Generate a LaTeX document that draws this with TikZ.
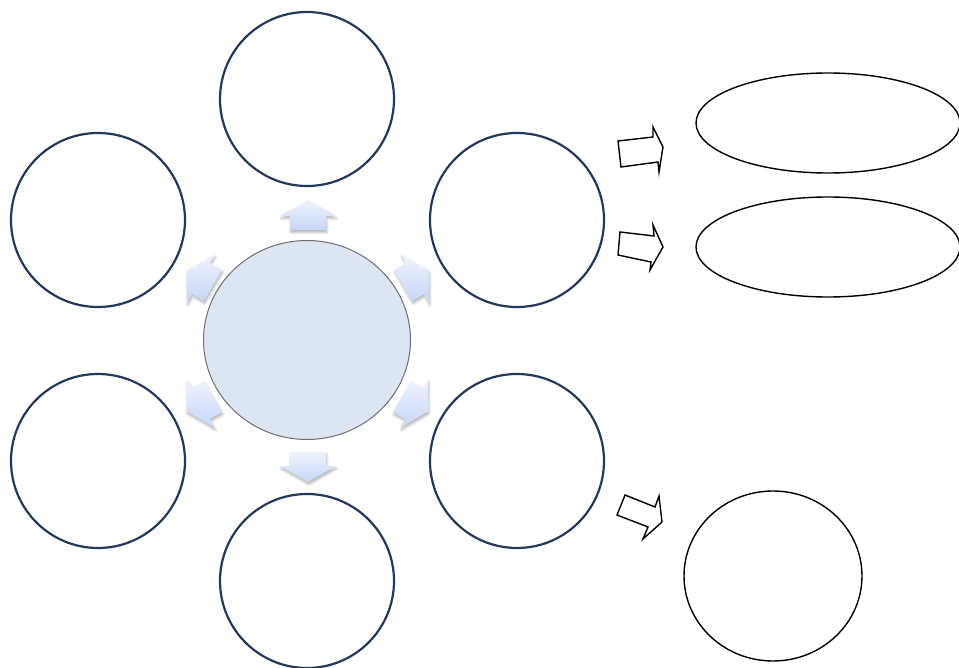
\documentclass[tikz,border=0pt]{standalone}
\usetikzlibrary{shapes.geometric,shadows.blur}

\definecolor{ringblue}{HTML}{22395A}
\definecolor{hubfill}{HTML}{DCE6F2}
\definecolor{hubline}{HTML}{6E6E6E}
\definecolor{arrtop}{HTML}{EFF3FD}
\definecolor{arrbot}{HTML}{C6D6F7}

\tikzset{
  ring/.style={circle, draw=ringblue, line width=2.2pt, fill=white,
               minimum size=174pt, inner sep=0pt},
  hub/.style={ellipse, draw=hubline, line width=1pt, fill=hubfill,
              minimum width=207pt, minimum height=199pt, inner sep=0pt},
  result/.style={ellipse, draw=black, line width=1.4pt, inner sep=0pt},
  outarrow/.style={draw=black, line width=1.4pt, line join=miter, fill=white},
  radarrow/.style={top color=arrtop, bottom color=arrbot,
    blur shadow={shadow xshift=0.8pt, shadow yshift=-2.5pt,
                 shadow blur radius=2.5pt, shadow opacity=30}},
}

% small block arrow around the hub: name, centre x, centre y, rotation
\newcommand\radialarrow[4]{%
  \begin{scope}[shift={(#2,#3)}, rotate=#4]
    \coordinate (#1-1) at (-18,15);
    \coordinate (#1-2) at (-18,1);
    \coordinate (#1-3) at (-28,1);
    \coordinate (#1-4) at (0,-15);
    \coordinate (#1-5) at (28,1);
    \coordinate (#1-6) at (18,1);
    \coordinate (#1-7) at (18,15);
  \end{scope}
  \path[radarrow] (#1-1) -- (#1-2) -- (#1-3) -- (#1-4) -- (#1-5)
                  -- (#1-6) -- (#1-7) -- cycle;
}

\begin{document}
\begin{tikzpicture}[x=1pt, y=-1pt]
  \useasboundingbox (0,0) rectangle (959,668);
  \clip (0,0) rectangle (959,668);

  % hub and the six surrounding rings
  \node[hub]  (hub) at (307,340) {};
  \node[ring] (n)   at (307,99)  {};
  \node[ring] (nw)  at (98,220)  {};
  \node[ring] (ne)  at (517,220) {};
  \node[ring] (sw)  at (98,461)  {};
  \node[ring] (se)  at (517,461) {};
  \node[ring] (s)   at (307,581) {};

  % radial arrows
  \radialarrow{an}{308}{215}{0}
  \radialarrow{ane}{416}{278}{-60}
  \radialarrow{ase}{415}{404}{-120}
  \radialarrow{as}{308}{467}{180}
  \radialarrow{asw}{200}{404}{120}
  \radialarrow{anw}{200}{278}{60}

  % results on the right
  \node[result, minimum width=264pt, minimum height=100pt] (r1) at (828,123) {};
  \node[result, minimum width=264pt, minimum height=100pt] (r2) at (828,247) {};
  \node[result, minimum width=178pt, minimum height=170pt] (r3) at (773,576) {};

  % outline arrows pointing to the results
  \draw[outarrow] (618,141) -- (653,137) -- (653,127) -- (663,147)
                  -- (659,172) -- (658,162) -- (621,167) -- cycle;
  \draw[outarrow] (620,232) -- (654,236) -- (653,225) -- (663,247)
                  -- (650,270) -- (651,262) -- (618,255) -- cycle;
  \draw[outarrow] (625,495) -- (655,507) -- (659,496) -- (662,522)
                  -- (643,539) -- (648,527) -- (617,515) -- cycle;
\end{tikzpicture}
\end{document}
